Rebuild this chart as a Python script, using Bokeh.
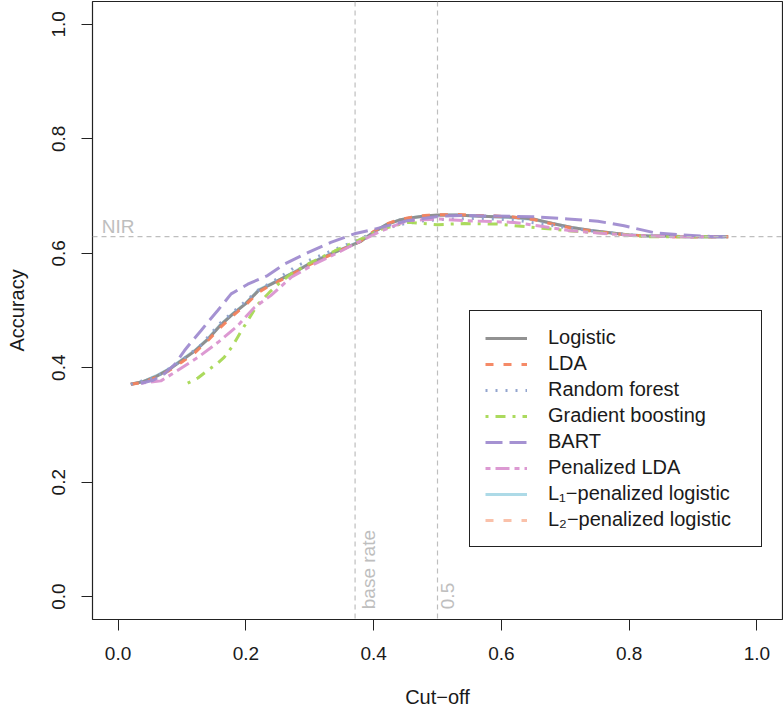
import math
from bokeh.plotting import figure
from bokeh.models import Range1d, FixedTicker, Legend, LegendItem, Span, PrintfTickFormatter
from bokeh.embed import file_html
from bokeh.resources import INLINE
from bokeh.core.properties import value

# ---------------- data ----------------
cut_logistic = [0.02, 0.04, 0.06, 0.08, 0.10, 0.12, 0.14, 0.16, 0.18, 0.20, 0.22, 0.24, 0.26, 0.28,
                0.30, 0.32, 0.34, 0.36, 0.38, 0.40, 0.42, 0.44, 0.46, 0.48, 0.50, 0.53, 0.56, 0.59,
                0.62, 0.65, 0.68, 0.71, 0.74, 0.77, 0.80, 0.83, 0.86, 0.89, 0.92, 0.955]
acc_logistic = [0.371, 0.376, 0.385, 0.397, 0.413, 0.429, 0.449, 0.474, 0.494, 0.512, 0.535, 0.546,
                0.558, 0.569, 0.582, 0.592, 0.602, 0.611, 0.621, 0.637, 0.650, 0.658, 0.662, 0.665,
                0.667, 0.667, 0.665, 0.664, 0.663, 0.660, 0.652, 0.645, 0.640, 0.636, 0.632, 0.630,
                0.630, 0.629, 0.629, 0.629]

cut_lda = cut_logistic
acc_lda = [0.371, 0.375, 0.383, 0.395, 0.410, 0.426, 0.447, 0.470, 0.491, 0.510, 0.532, 0.545,
           0.556, 0.568, 0.580, 0.591, 0.601, 0.611, 0.622, 0.638, 0.651, 0.659, 0.663, 0.666,
           0.667, 0.668, 0.666, 0.665, 0.663, 0.659, 0.651, 0.644, 0.639, 0.635, 0.632, 0.630,
           0.629, 0.629, 0.629, 0.629]

cut_rf = [0.02, 0.06, 0.10, 0.13, 0.16, 0.19, 0.22, 0.25, 0.28, 0.31, 0.34, 0.37, 0.40, 0.44,
          0.48, 0.52, 0.57, 0.62, 0.66, 0.70, 0.75, 0.80, 0.85, 0.90, 0.95]
acc_rf = [0.371, 0.384, 0.413, 0.440, 0.478, 0.507, 0.536, 0.556, 0.578, 0.593, 0.607, 0.621,
          0.636, 0.650, 0.657, 0.660, 0.661, 0.658, 0.652, 0.645, 0.638, 0.632, 0.630, 0.629, 0.629]

cut_gb = [0.109, 0.125, 0.140, 0.155, 0.166, 0.178, 0.187, 0.195, 0.203, 0.211, 0.219, 0.239,
          0.255, 0.271, 0.302, 0.339, 0.375, 0.412, 0.453, 0.500, 0.542, 0.594, 0.662, 0.709,
          0.776, 0.829, 0.881, 0.930]
acc_gb = [0.373, 0.382, 0.395, 0.407, 0.418, 0.436, 0.453, 0.468, 0.482, 0.497, 0.511, 0.534,
          0.550, 0.564, 0.584, 0.604, 0.622, 0.642, 0.654, 0.650, 0.652, 0.651, 0.644, 0.639,
          0.634, 0.629, 0.629, 0.629]

cut_bart = [0.036, 0.055, 0.072, 0.088, 0.104, 0.117, 0.130, 0.143, 0.156, 0.177, 0.203, 0.234,
            0.260, 0.297, 0.333, 0.370, 0.401, 0.453, 0.505, 0.545, 0.584, 0.651, 0.704, 0.751,
            0.792, 0.839, 0.881, 0.933, 0.960]
acc_bart = [0.373, 0.378, 0.389, 0.405, 0.430, 0.448, 0.465, 0.483, 0.500, 0.529, 0.546, 0.561,
            0.581, 0.601, 0.619, 0.634, 0.642, 0.657, 0.665, 0.666, 0.665, 0.664, 0.660, 0.656,
            0.648, 0.636, 0.632, 0.629, 0.629]

cut_plda = [0.036, 0.067, 0.093, 0.125, 0.156, 0.187, 0.213, 0.239, 0.271, 0.307, 0.344, 0.375,
            0.412, 0.453, 0.500, 0.542, 0.620, 0.657, 0.704, 0.756, 0.808, 0.860, 0.933]
acc_plda = [0.373, 0.377, 0.395, 0.418, 0.444, 0.473, 0.505, 0.526, 0.558, 0.581, 0.601, 0.619,
            0.639, 0.657, 0.660, 0.657, 0.654, 0.648, 0.640, 0.635, 0.631, 0.629, 0.629]

cut_l1 = cut_logistic
acc_l1 = [0.371, 0.376, 0.386, 0.398, 0.414, 0.430, 0.450, 0.475, 0.495, 0.513, 0.536, 0.547,
          0.558, 0.570, 0.582, 0.593, 0.603, 0.612, 0.621, 0.637, 0.650, 0.658, 0.662, 0.665,
          0.666, 0.667, 0.665, 0.664, 0.662, 0.659, 0.652, 0.645, 0.640, 0.636, 0.632, 0.630,
          0.630, 0.629, 0.629, 0.629]

cut_l2 = cut_logistic
acc_l2 = [0.371, 0.375, 0.384, 0.396, 0.411, 0.427, 0.448, 0.472, 0.492, 0.511, 0.533, 0.545,
          0.557, 0.568, 0.581, 0.591, 0.601, 0.611, 0.621, 0.637, 0.651, 0.659, 0.663, 0.666,
          0.667, 0.668, 0.666, 0.665, 0.663, 0.660, 0.652, 0.645, 0.640, 0.635, 0.632, 0.630,
          0.629, 0.629, 0.629, 0.629]

series_names = ["Logistic", "LDA", "Random forest", "Gradient boosting", "BART",
                "Penalized LDA", "L\u2081\u2212penalized logistic", "L\u2082\u2212penalized logistic"]
series_cuts = [cut_logistic, cut_lda, cut_rf, cut_gb, cut_bart, cut_plda, cut_l1, cut_l2]
series_accs = [acc_logistic, acc_lda, acc_rf, acc_gb, acc_bart, acc_plda, acc_l1, acc_l2]

nir = 0.629
base_rate = 0.371
x_ticks = [0.0, 0.2, 0.4, 0.6, 0.8, 1.0]
y_ticks = [0.0, 0.2, 0.4, 0.6, 0.8, 1.0]

# ---------------- styles ----------------
colors = ["#8C8C8C", "#F4845F", "#8DA0CB", "#A6D854", "#A08CD0", "#DA94D0", "#9FD4E3", "#F9B69B"]
dashes = ["solid", "8 10", "2 8", "3 7 10 7", "17 7", "5 5 14 5", "solid", "8 10"]
alphas = [0.95, 0.95, 0.95, 0.95, 0.95, 0.95, 0.85, 0.85]
draw_order = [6, 7, 0, 1, 2, 3, 5, 4]
FONT = "Liberation Sans"
GREY = "#BEBEBE"

p = figure(width=783, height=711, output_backend="svg", toolbar_location=None,
           x_range=Range1d(-0.04, 1.04), y_range=Range1d(-0.04, 1.04),
           min_border_left=92, min_border_right=1, min_border_top=1, min_border_bottom=92,
           x_axis_label="Cut\u2212off", y_axis_label="Accuracy")
p.xgrid.visible = False
p.ygrid.visible = False
p.background_fill_color = "white"
p.border_fill_color = "white"
p.outline_line_color = "#222222"
p.outline_line_width = 1.2

for ax, ticks in ((p.xaxis, x_ticks), (p.yaxis, y_ticks)):
    ax.ticker = FixedTicker(ticks=ticks)
    ax.formatter = PrintfTickFormatter(format="%.1f")
    ax.axis_line_color = None
    ax.major_tick_in = 0
    ax.major_tick_out = 11
    ax.major_tick_line_color = "#222222"
    ax.minor_tick_line_color = None
    ax.major_label_text_font = FONT
    ax.major_label_text_font_size = "19px"
    ax.major_label_text_color = "#1a1a1a"
    ax.axis_label_text_font = FONT
    ax.axis_label_text_font_size = "20px"
    ax.axis_label_text_font_style = "normal"
    ax.axis_label_text_color = "#1a1a1a"

p.xaxis.major_label_standoff = 16
p.xaxis.axis_label_standoff = 23
p.yaxis.major_label_standoff = 16
p.yaxis.axis_label_standoff = 22
p.yaxis.major_label_orientation = "vertical"

# reference lines
p.add_layout(Span(location=nir, dimension="width", line_color=GREY, line_dash="5 4", line_width=1.2))
p.add_layout(Span(location=base_rate, dimension="height", line_color=GREY, line_dash="5 4", line_width=1.2))
p.add_layout(Span(location=0.5, dimension="height", line_color=GREY, line_dash="5 4", line_width=1.2))

p.text(x=[0.0], y=[nir], text=["NIR"], text_align="center", text_baseline="bottom",
       text_color=GREY, text_font=value(FONT), text_font_size="19px")
p.text(x=[base_rate, 0.5], y=[-0.022, -0.022], text=["base rate", "0.5"], angle=math.pi / 2,
       text_align="left", text_baseline="top", x_offset=3,
       text_color=GREY, text_font=value(FONT), text_font_size="19px")

renderers = {}
for i in draw_order:
    renderers[i] = p.line(series_cuts[i], series_accs[i], line_color=colors[i], line_dash=dashes[i],
                          line_width=3, line_alpha=alphas[i])
items = [LegendItem(label=series_names[i], renderers=[renderers[i]]) for i in range(len(series_names))]

legend = Legend(items=items, location=(377, 72), margin=0, padding=15,
                glyph_width=42, glyph_height=22, label_height=22, label_width=198,
                label_standoff=21, spacing=3,
                label_text_font=FONT, label_text_font_size="20px", label_text_color="#1a1a1a",
                border_line_color="#222222", border_line_width=1.2, border_line_alpha=1,
                background_fill_color="white", background_fill_alpha=1)
p.add_layout(legend)

open("out.html", "w").write(file_html(p, INLINE))
